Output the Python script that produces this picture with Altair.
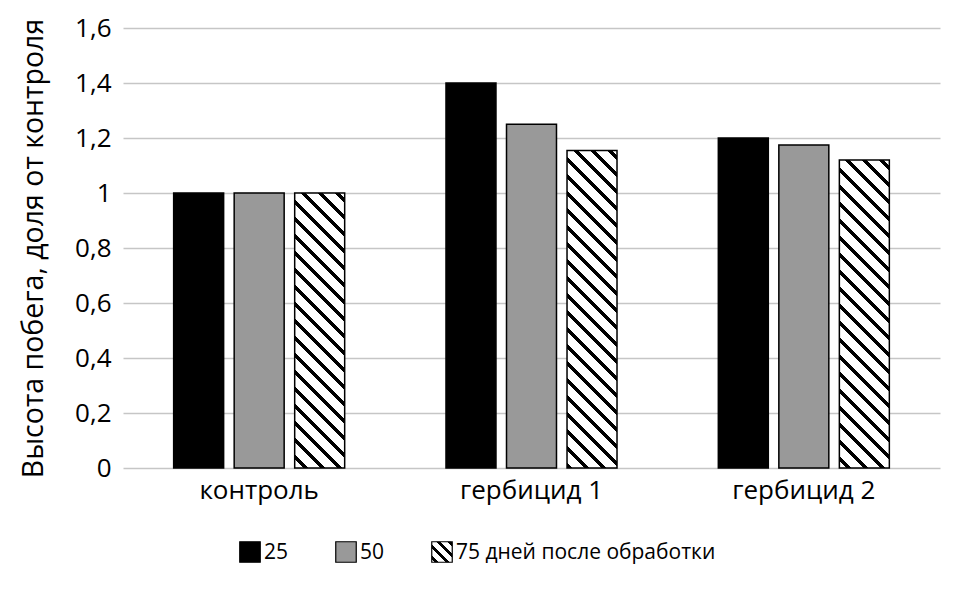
import math
import altair as alt
import pandas as pd

# ---- data ----
categories = ["контроль", "гербицид 1", "гербицид 2"]
series = ["25", "50", "75"]
values_25 = [1.0, 1.40, 1.20]
values_50 = [1.0, 1.25, 1.175]
values_75 = [1.0, 1.155, 1.12]
legend_labels = ["25", "50", "75 дней после обработки"]
y_ticks = [0, 0.2, 0.4, 0.6, 0.8, 1.0, 1.2, 1.4, 1.6]
y_title = "Высота побега, доля от контроля"

# ---- layout / style ----
W, H = 817, 440
YMAX = 1.6
PI_X, PO_X = 1 / 3, 1 / 6
PI_O, PO_O = 0.174, 0.087
FONT = "Open Sans"
FS = 26
TXT = "#000000"
GRAY = "#999999"

n, m = len(categories), len(series)
step_x = W / (n - PI_X + 2 * PO_X)
band_x = step_x * (1 - PI_X)
step_o = band_x / (m - PI_O + 2 * PO_O)
bar_w = step_o * (1 - PI_O)


def hatch(w, h, period=17.0, frac=0.28, phase=8.0):
    L = w + h
    b = period * frac
    stops = [{"offset": 0.0, "color": "white"}]
    k = -1
    while True:
        c = phase + k * period
        k += 1
        if c - b / 2 >= L:
            break
        if c + b / 2 <= 0:
            continue
        a = max(0.0, c - b / 2) / L
        e = min(L, c + b / 2) / L
        stops.append({"offset": round(a, 5), "color": "white"})
        stops.append({"offset": round(a, 5), "color": "black"})
        stops.append({"offset": round(e, 5), "color": "black"})
        stops.append({"offset": round(e, 5), "color": "white"})
    stops.append({"offset": 1.0, "color": "white"})
    kk = (w + h) / (w * w + h * h)
    return {
        "gradient": "linear",
        "x1": 1, "y1": 0,
        "x2": round(1 - w * kk, 5), "y2": round(h * kk, 5),
        "stops": stops,
    }


rows = []
for i, c in enumerate(categories):
    for s, vals in zip(series, [values_25, values_50, values_75]):
        rows.append({"cat": c, "series": s, "value": vals[i]})
df = pd.DataFrame(rows)

x_enc = alt.X(
    "cat:N",
    sort=categories,
    scale=alt.Scale(domain=categories, paddingInner=PI_X, paddingOuter=PO_X),
    axis=alt.Axis(
        title=None, labelAngle=0, domain=False, ticks=False, grid=False,
        labelFontSize=FS, labelFont=FONT, labelColor=TXT, labelPadding=9,
    ),
)
xo_enc = alt.XOffset(
    "series:N",
    sort=series,
    scale=alt.Scale(domain=series, paddingInner=PI_O, paddingOuter=PO_O),
)
y_enc = alt.Y(
    "value:Q",
    scale=alt.Scale(domain=[0, YMAX], nice=False, zero=True),
    axis=alt.Axis(
        values=y_ticks,
        labelExpr="replace(toString(round(datum.value*10)/10), '.', ',')",
        domain=False, ticks=False, grid=True,
        gridColor="#c6c6c6", gridWidth=1.5,
        labelFontSize=FS, labelFont=FONT, labelColor=TXT, labelPadding=12,
        title=y_title, titleFontSize=28.5, titleFont=FONT, titleColor=TXT,
        titleFontWeight="normal", titlePadding=26,
    ),
)

base = alt.Chart(df).encode(x=x_enc, xOffset=xo_enc, y=y_enc)

solid = base.transform_filter("datum.series != '75'").mark_bar(
    stroke="black", strokeWidth=1.5
).encode(
    fill=alt.Fill(
        "series:N",
        scale=alt.Scale(domain=["25", "50"], range=["black", GRAY]),
        legend=None,
    )
)

hatched_layers = []
for c, v in zip(categories, values_75):
    hpx = v / YMAX * H
    hatched_layers.append(
        base.transform_filter(
            f"datum.series == '75' && datum.cat == '{c}'"
        ).mark_bar(fill=hatch(bar_w, hpx), stroke="black", strokeWidth=1.5)
    )

main = alt.layer(solid, *hatched_layers)

# ---- legend ----
leg_df = pd.DataFrame({"label": legend_labels, "series": series})
leg_x = alt.X(
    "label:N",
    sort=legend_labels,
    scale=alt.Scale(type="point", domain=legend_labels, range=[127, 319], padding=0),
    axis=None,
)
leg_base = alt.Chart(leg_df).encode(x=leg_x, y=alt.value(H + 84))
leg_sq = leg_base.transform_filter("datum.series != '75'").mark_square(
    size=420, filled=True, stroke="black", strokeWidth=1.2, opacity=1
).encode(
    fill=alt.Fill(
        "series:N",
        scale=alt.Scale(domain=["25", "50"], range=["black", GRAY]),
        legend=None,
    )
)
leg_sq_h = leg_base.transform_filter("datum.series == '75'").mark_square(
    size=420, filled=True, stroke="black", strokeWidth=1.2, opacity=1,
    fill=hatch(20.5, 20.5, period=11.0, frac=0.32, phase=3.0),
)
leg_txt = leg_base.mark_text(
    align="left", baseline="middle", dx=14, dy=1,
    fontSize=21, font=FONT, color=TXT,
).encode(text="label:N")
legend = alt.layer(leg_sq, leg_sq_h, leg_txt)

chart = (
    alt.layer(main, legend)
    .resolve_scale(x="independent")
    .properties(
        width=W, height=H,
        autosize=alt.AutoSizeParams(type="none"),
        padding={"left": 115, "top": 20, "right": 30, "bottom": 100},
        background="white",
    )
    .configure_view(strokeWidth=0)
)

chart.save("out.html", embed_options={"renderer": "svg", "actions": False})
